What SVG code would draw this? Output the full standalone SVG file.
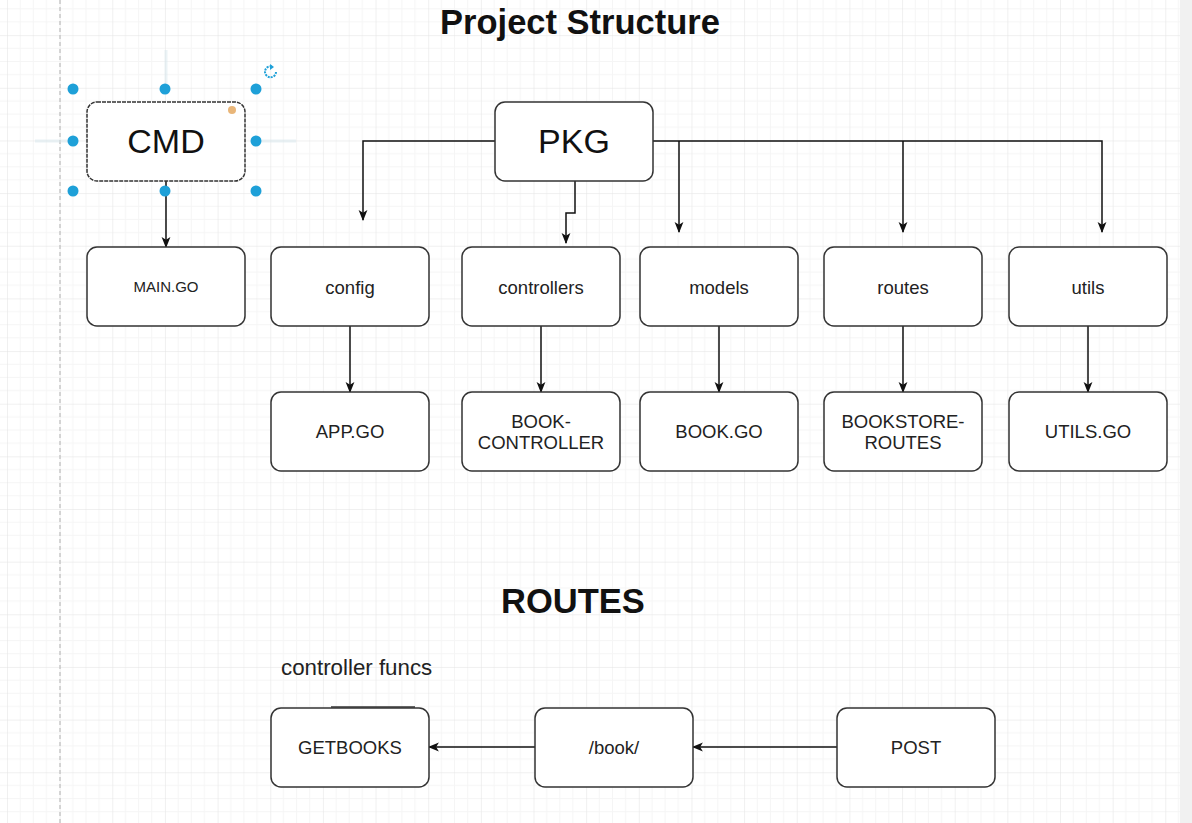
<svg xmlns="http://www.w3.org/2000/svg" width="1192" height="823" viewBox="0 0 1192 823">
  <style>
    .box { fill: #ffffff; stroke: #333333; stroke-width: 1.5; }
    .lbl { font-family: "Liberation Sans", Arial, sans-serif; fill: #222222; text-anchor: middle; }
    .big { font-size: 34px; fill: #111111; }
    .mid { font-size: 18.5px; }
    .small { font-size: 15px; }
    .title { font-family: "Liberation Sans", Arial, sans-serif; font-weight: bold; font-size: 34.5px; fill: #111111; text-anchor: middle; }
    .edge { fill: none; stroke: #111111; stroke-width: 1.5; }
    .handle { fill: #1ea0d8; }
    .hint { stroke: #d8e8ee; stroke-width: 3; opacity: 0.5; }
  </style>
  <defs>
    <pattern id="grid" patternUnits="userSpaceOnUse" x="7" y="35.15" width="52.65" height="52.65">
      <path d="M13.16 0V52.65M26.33 0V52.65M39.49 0V52.65M0 13.16H52.65M0 26.33H52.65M0 39.49H52.65" stroke="#f5f5f5" stroke-width="1" fill="none"/>
      <path d="M0 0V52.65M0 0H52.65" stroke="#e2e2e2" stroke-width="1" fill="none"/>
    </pattern>
    <marker id="arrow" viewBox="0 0 10 10" refX="9" refY="5" markerWidth="11" markerHeight="11" markerUnits="userSpaceOnUse" orient="auto">
      <path d="M0 1L10 5L0 9L2.5 5Z" fill="#111111"/>
    </marker>
  </defs>

  <!-- canvas -->
  <rect width="1192" height="823" fill="#ffffff"/>
  <rect width="1192" height="823" fill="url(#grid)"/>
  <rect x="1180" y="0" width="12" height="823" fill="#f1f1f1"/>
  <line x1="60" y1="0" x2="60" y2="823" stroke="#bdbdbd" stroke-width="1.2" stroke-dasharray="4 3"/>

  <!-- headings -->
  <text class="title" x="580" y="34">Project Structure</text>
  <text class="title" x="573" y="613">ROUTES</text>
  <text x="281" y="675" font-family="'Liberation Sans', Arial, sans-serif" font-size="22.3" fill="#222222">controller funcs</text>
  <line x1="331" y1="707" x2="415" y2="707" stroke="#333333" stroke-width="1.5"/>

  <!-- connectors -->
  <g id="connectors">
    <path class="edge" d="M166 181V247" marker-end="url(#arrow)"/>
    <path class="edge" d="M495 141H363V220" marker-end="url(#arrow)"/>
    <path class="edge" d="M575 181V213H566V243" marker-end="url(#arrow)"/>
    <path class="edge" d="M653 141H1102V232" marker-end="url(#arrow)"/>
    <path class="edge" d="M679 141V232" marker-end="url(#arrow)"/>
    <path class="edge" d="M903 141V232" marker-end="url(#arrow)"/>
    <path class="edge" d="M350 326V392" marker-end="url(#arrow)"/>
    <path class="edge" d="M541 326V392" marker-end="url(#arrow)"/>
    <path class="edge" d="M719 326V392" marker-end="url(#arrow)"/>
    <path class="edge" d="M903 326V392" marker-end="url(#arrow)"/>
    <path class="edge" d="M1088 326V392" marker-end="url(#arrow)"/>
    <path class="edge" d="M535 747H429" marker-end="url(#arrow)"/>
    <path class="edge" d="M837 747H693" marker-end="url(#arrow)"/>
  </g>

  <!-- CMD (selected) -->
  <g id="cmd">
    <line class="hint" x1="166" y1="50" x2="166" y2="84"/>
    <line class="hint" x1="35" y1="141" x2="68" y2="141"/>
    <line class="hint" x1="262" y1="141" x2="296" y2="141"/>
    <rect class="box" x="87" y="102" width="158" height="79" rx="10" stroke-dasharray="4 1"/>
    <text class="lbl big" x="166" y="153">CMD</text>
    <circle cx="232" cy="110" r="4" fill="#e9b679"/>
    <circle class="handle" cx="73" cy="89" r="5.5"/>
    <circle class="handle" cx="165" cy="89" r="5.5"/>
    <circle class="handle" cx="256" cy="89" r="5.5"/>
    <circle class="handle" cx="73" cy="141" r="5.5"/>
    <circle class="handle" cx="256" cy="141" r="5.5"/>
    <circle class="handle" cx="73" cy="191" r="5.5"/>
    <circle class="handle" cx="165" cy="191" r="5.5"/>
    <circle class="handle" cx="256" cy="191" r="5.5"/>
    <path d="M276 72A5.5 5.5 0 1 1 272 66.5" fill="none" stroke="#1ea0d8" stroke-width="2" stroke-dasharray="2 1"/>
    <path d="M270 64L274 67L270 70Z" fill="#1ea0d8"/>
  </g>

  <g id="pkg">
    <rect class="box" x="495" y="102" width="158" height="79" rx="10"/>
    <text class="lbl big" x="574" y="153">PKG</text>
  </g>

  <!-- second row -->
  <g id="main-go">
    <rect class="box" x="87" y="247" width="158" height="79" rx="10"/>
    <text class="lbl small" x="166" y="292">MAIN.GO</text>
  </g>
  <g id="config">
    <rect class="box" x="271" y="247" width="158" height="79" rx="10"/>
    <text class="lbl mid" x="350" y="294">config</text>
  </g>
  <g id="controllers">
    <rect class="box" x="462" y="247" width="158" height="79" rx="10"/>
    <text class="lbl mid" x="541" y="294">controllers</text>
  </g>
  <g id="models">
    <rect class="box" x="640" y="247" width="158" height="79" rx="10"/>
    <text class="lbl mid" x="719" y="294">models</text>
  </g>
  <g id="routes">
    <rect class="box" x="824" y="247" width="158" height="79" rx="10"/>
    <text class="lbl mid" x="903" y="294">routes</text>
  </g>
  <g id="utils">
    <rect class="box" x="1009" y="247" width="158" height="79" rx="10"/>
    <text class="lbl mid" x="1088" y="294">utils</text>
  </g>

  <!-- third row -->
  <g id="app-go">
    <rect class="box" x="271" y="392" width="158" height="79" rx="10"/>
    <text class="lbl mid" x="350" y="438">APP.GO</text>
  </g>
  <g id="book-controller">
    <rect class="box" x="462" y="392" width="158" height="79" rx="10"/>
    <text class="lbl mid" x="541" y="428">BOOK-</text>
    <text class="lbl mid" x="541" y="449">CONTROLLER</text>
  </g>
  <g id="book-go">
    <rect class="box" x="640" y="392" width="158" height="79" rx="10"/>
    <text class="lbl mid" x="719" y="438">BOOK.GO</text>
  </g>
  <g id="bookstore-routes">
    <rect class="box" x="824" y="392" width="158" height="79" rx="10"/>
    <text class="lbl mid" x="903" y="428">BOOKSTORE-</text>
    <text class="lbl mid" x="903" y="449">ROUTES</text>
  </g>
  <g id="utils-go">
    <rect class="box" x="1009" y="392" width="158" height="79" rx="10"/>
    <text class="lbl mid" x="1088" y="438">UTILS.GO</text>
  </g>

  <!-- routes row -->
  <g id="getbooks">
    <rect class="box" x="271" y="708" width="158" height="79" rx="10"/>
    <text class="lbl mid" x="350" y="754">GETBOOKS</text>
  </g>
  <g id="book-path">
    <rect class="box" x="535" y="708" width="158" height="79" rx="10"/>
    <text class="lbl mid" x="614" y="754">/book/</text>
  </g>
  <g id="post">
    <rect class="box" x="837" y="708" width="158" height="79" rx="10"/>
    <text class="lbl mid" x="916" y="754">POST</text>
  </g>
</svg>
